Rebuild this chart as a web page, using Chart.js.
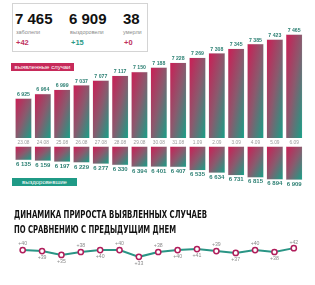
<!DOCTYPE html>
<html>
<head>
<meta charset="utf-8">
<script src="https://cdn.jsdelivr.net/npm/chart.js@4.4.1/dist/chart.umd.min.js"></script>
<style>
body{margin:0;width:315px;height:285px;background:#fff;position:relative;overflow:hidden;font-family:"Liberation Sans",Arial,sans-serif}
.abs{position:absolute;white-space:nowrap}
canvas{position:absolute;left:0}
#stats{left:12px;top:3px;width:136px;height:49px;border:1px solid #d4d4d4;box-sizing:border-box}
.big{font-weight:bold;font-size:15px;color:#111;line-height:15px}
.sub{font-size:5.5px;color:#8a8a8a}
.delta{font-weight:bold;font-size:7.5px}
.tag{color:#fff;font-size:6px;line-height:8px;height:8px;text-align:center}
.title{left:14px;font-family:"DejaVu Sans",sans-serif;font-stretch:condensed;font-weight:bold;font-size:11px;line-height:11px;color:#111;transform-origin:0 0}
</style>
</head>
<body>

<div id="stats" class="abs"></div>
<div class="abs big" style="left:15px;top:11px">7 465</div>
<div class="abs sub" style="left:16px;top:29px">заболели</div>
<div class="abs delta" style="left:16px;top:38px;color:#c0325e">+42</div>
<div class="abs big" style="left:69px;top:11px">6 909</div>
<div class="abs sub" style="left:70px;top:29px">выздоровели</div>
<div class="abs delta" style="left:71px;top:38px;color:#2a9a86">+15</div>
<div class="abs big" style="left:123px;top:11px">38</div>
<div class="abs sub" style="left:123px;top:29px">умерли</div>
<div class="abs delta" style="left:124px;top:38px;color:#c0325e">+0</div>

<canvas id="casesChart" width="315" height="150" style="top:0"></canvas>
<canvas id="recChart" width="315" height="50" style="top:140px"></canvas>
<canvas id="growthChart" width="315" height="40" style="top:232px"></canvas>

<div class="abs tag" style="left:11px;top:63px;width:63px;background:#c72a5a">выявленные случаи</div>
<div class="abs tag" style="left:12px;top:177.5px;width:65px;background:#1f9a86">выздоровевшие</div>

<div class="abs title" id="t1" style="top:209px">ДИНАМИКА ПРИРОСТА ВЫЯВЛЕННЫХ СЛУЧАЕВ</div>
<div class="abs title" id="t2" style="top:224px">ПО СРАВНЕНИЮ С ПРЕДЫДУЩИМ ДНЕМ</div>

<script>
let dates=["23.08","24.08","25.08","26.08","27.08","28.08","29.08","30.08","31.08","1.09","2.09","3.09","4.09","5.09","6.09"]
let cases=[6925,6964,6999,7037,7077,7117,7150,7188,7228,7269,7308,7345,7385,7423,7465]
let recovered=[6135,6159,6197,6229,6277,6330,6394,6401,6407,6535,6634,6731,6815,6894,6909]
let growth=[40,39,35,38,40,40,33,38,40,41,39,37,40,38,42]
let growthAbove=[true,false,false,true,false,true,false,true,false,false,true,false,true,false,true]

const MAGENTA="#cc1d55"
const TEAL="#16a087"
const BAR_W=16

// fit title lines to the width they have in the picture
function fitTitle(id,w){
let el=document.getElementById(id)
let r=el.getBoundingClientRect().width
el.style.transform="scaleX("+(w/r)+")"
}
fitTitle("t1",193)
fitTitle("t2",162)

function fmt(v){
return String(v).replace(/\B(?=(\d{3})+(?!\d))/g," ")
}

// "to bottom right" gradient for one bar
function barGradient(c){
let ch=c.chart
let xs=ch.scales.x, ys=ch.scales.y
if(!xs||!ys||c.type!=="data") return MAGENTA
let w=BAR_W
let x=xs.getPixelForValue(c.dataIndex)
let a=ys.getPixelForValue(c.raw), b=ys.getPixelForValue(ys.min)
if(!isFinite(x)||!isFinite(a)||!isFinite(b)) return MAGENTA
let top=Math.min(a,b), bot=Math.max(a,b)
let h=Math.max(bot-top,1)
let cx=x, cy=(top+bot)/2
let n2=h*h+w*w
let g=ch.ctx.createLinearGradient(cx-h*w*h/n2,cy-w*w*h/n2,cx+h*w*h/n2,cy+w*w*h/n2)
g.addColorStop(0,MAGENTA)
g.addColorStop(0.5,"#8a5a6e")
g.addColorStop(1,TEAL)
return g
}

const barLabels={
id:"barLabels",
afterDatasetsDraw(chart,args,opts){
let ctx=chart.ctx
let meta=chart.getDatasetMeta(0)
let data=chart.data.datasets[0].data
ctx.save()
ctx.textAlign="center"
ctx.textBaseline="middle"
meta.data.forEach((el,i)=>{
ctx.fillStyle=opts.color
ctx.font=opts.font
ctx.fillText(fmt(data[i]),el.x,el.y+opts.offset)
if(opts.dates){
ctx.fillStyle="#9a9a9a"
ctx.font="4.8px 'Liberation Sans', Arial"
ctx.fillText(chart.data.labels[i],el.x,chart.chartArea.bottom+5)
}
})
ctx.restore()
}
}

function barChart(id,values,min,max,reverse,padding,labelOpts){
return new Chart(document.getElementById(id),{
type:"bar",
data:{
labels:dates,
datasets:[{
data:values,
barThickness:BAR_W,
backgroundColor:barGradient,
borderColor:"rgba(200,200,200,0.6)",
borderWidth:0.5
}]
},
options:{
responsive:false,
animation:false,
layout:{padding:padding},
plugins:{legend:{display:false},tooltip:{enabled:false},barLabels:labelOpts},
scales:{
x:{display:false},
y:{display:false,min:min,max:max,reverse:reverse}
}
},
plugins:[barLabels]
})
}

barChart("casesChart",cases,6593,7589,false,{left:13.8,right:11.2,top:20,bottom:12},
{color:"#2b7f72",font:"bold 5.2px 'Liberation Sans', Arial",offset:-4,dates:true})

barChart("recChart",recovered,5612,7313,true,{left:13.8,right:11.2,top:6.7,bottom:0},
{color:"#2b7f72",font:"bold 6px 'Liberation Sans', Arial",offset:4.5,dates:false})

const pointLabels={
id:"pointLabels",
afterDatasetsDraw(chart){
let ctx=chart.ctx
let meta=chart.getDatasetMeta(0)
ctx.save()
ctx.textAlign="center"
ctx.textBaseline="middle"
ctx.fillStyle="#8a8a8a"
ctx.font="5.2px 'Liberation Sans', Arial"
meta.data.forEach((el,i)=>{
ctx.fillText("+"+growth[i],el.x,el.y+(growthAbove[i]?-6:6.5))
})
ctx.restore()
}
}

new Chart(document.getElementById("growthChart"),{
type:"line",
data:{
labels:dates,
datasets:[{
data:growth,
borderColor:"#2a9585",
borderWidth:2,
pointRadius:2.6,
pointBorderWidth:1.5,
pointBorderColor:"#b01d5b",
pointBackgroundColor:"#fff",
tension:0,
clip:false
}]
},
options:{
responsive:false,
animation:false,
layout:{padding:{left:13,right:11.5,top:0,bottom:0}},
plugins:{legend:{display:false},tooltip:{enabled:false}},
scales:{
x:{display:false,offset:true},
y:{display:false,min:23,max:53}
}
},
plugins:[pointLabels]
})
</script>
</body>
</html>
